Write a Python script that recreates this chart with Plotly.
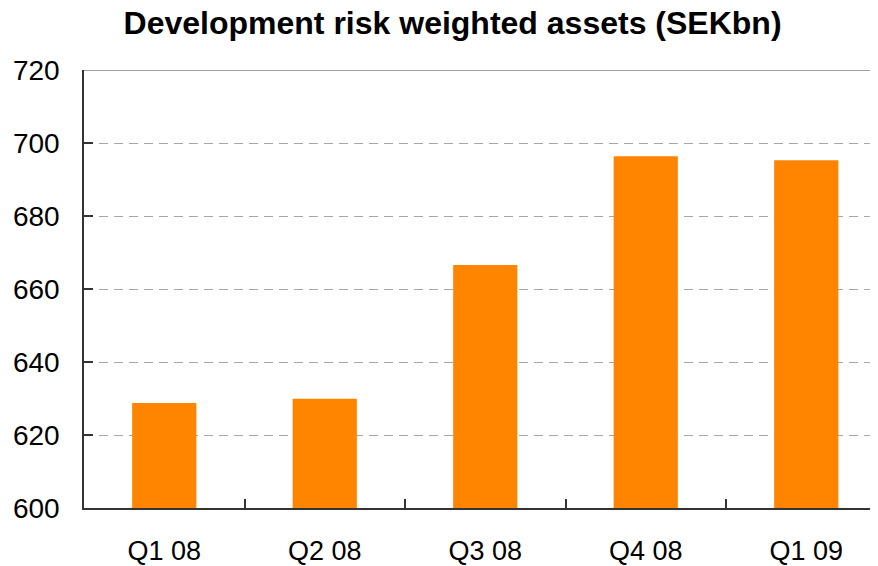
import plotly.graph_objects as go

categories = ["Q1 08", "Q2 08", "Q3 08", "Q4 08", "Q1 09"]
values = [628.8, 629.9, 666.6, 696.4, 695.3]
y_ticks = [600, 620, 640, 660, 680, 700, 720]
title_text = "Development risk weighted assets (SEKbn)"

xpos = list(range(len(categories)))

fig = go.Figure()
fig.add_trace(go.Bar(
    x=xpos, y=values, width=0.4,
    marker=dict(color="#FF8400", line=dict(width=0)),
    hoverinfo="skip",
))

font_family = "Liberation Sans, Arial, sans-serif"

# page body has an 8px margin, so the figure is sized to fit the window
fig.update_layout(
    width=870, height=558,
    margin=dict(l=76, r=0, t=62, b=58, autoexpand=False),
    paper_bgcolor="white", plot_bgcolor="white",
    showlegend=False,
    font=dict(family=font_family, color="black"),
    title=dict(text="<b>" + title_text + "</b>", x=0.511, xanchor="center",
               y=0.973, yanchor="middle", font=dict(size=32, family=font_family, color="black")),
    bargap=0.6,
)

fig.update_xaxes(
    range=[-0.5, 4.447], automargin=False,
    tickvals=xpos, ticktext=categories,
    ticks="", showgrid=False, zeroline=False,
    showline=True, linecolor="#333333", linewidth=2,
    tickfont=dict(size=27, family=font_family, color="black"),
    ticklabelstandoff=18,
    minor=dict(tickvals=[0.5, 1.5, 2.5, 3.5], ticks="inside", ticklen=9,
               tickcolor="#333333", tickwidth=1.5, showgrid=False),
)

fig.update_yaxes(
    range=[600, 720], automargin=False,
    tickvals=y_ticks, ticktext=[str(v) for v in y_ticks],
    ticks="inside", ticklen=9, tickcolor="#333333", tickwidth=1.5,
    showline=True, linecolor="#333333", linewidth=1.5,
    showgrid=True, gridcolor="#A6A6A6", gridwidth=1, griddash="9px,6px",
    zeroline=False,
    tickfont=dict(size=28, family=font_family, color="black"),
    ticklabelstandoff=17,
)

fig.add_shape(type="line", xref="paper", yref="y", x0=0, x1=1, y0=720, y1=720,
              line=dict(color="#808080", width=1.5))

fig.write_html("out.html")
